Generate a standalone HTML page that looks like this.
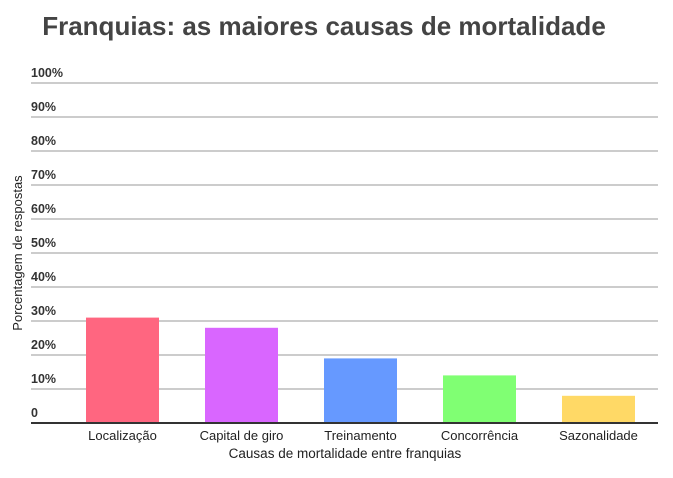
<!DOCTYPE html>
<html><head><meta charset="utf-8"><style>
body{margin:0;background:#fff;}
svg text{font-family:"Liberation Sans",sans-serif;}
</style></head><body>
<svg id="chart" width="673" height="473" xmlns="http://www.w3.org/2000/svg">
<text x="324" y="35" text-anchor="middle" font-size="26" font-weight="bold" fill="#444">Franquias: as maiores causas de mortalidade</text>
<text transform="translate(22,253) rotate(-90)" text-anchor="middle" font-size="13" fill="#222">Porcentagem de respostas</text>
<text x="345" y="458" text-anchor="middle" font-size="13.5" fill="#222">Causas de mortalidade entre franquias</text>
<g id="grid"></g><g id="bars"></g><g id="xlabels"></g>
</svg>
<script>
const categories=["Localização","Capital de giro","Treinamento","Concorrência","Sazonalidade"];
const values=[31,28,19,14,8];
const colors=["#ff6680","#d966ff","#6699ff","#80ff73","#ffd966"];
const ticks=[0,10,20,30,40,50,60,70,80,90,100];
const tickLabels=["0","10%","20%","30%","40%","50%","60%","70%","80%","90%","100%"];
const NS="http://www.w3.org/2000/svg";
const y0=423,pxPer=3.4,left=63,band=119,bw=73,gridL=31,gridR=658;
function y(v){return y0-v*pxPer;}
function x(i){return left+i*band+(band-bw)/2;}
const grid=document.getElementById('grid');
ticks.forEach((t,i)=>{
 const l=document.createElementNS(NS,'line');
 
 
 l.setAttribute('x1',gridL);l.setAttribute('x2',gridR);l.setAttribute('y1',y(t));l.setAttribute('y2',y(t));
 l.setAttribute('stroke',t===0?'#333':'#999');l.setAttribute('stroke-width',t===0?2:1);
 grid.appendChild(l);
 const tx=document.createElementNS(NS,'text');
 
 
 tx.setAttribute('x',gridL);tx.setAttribute('y',y(t)-6);tx.setAttribute('font-size','12.5');tx.setAttribute('font-weight','bold');tx.setAttribute('fill','#333');
 tx.textContent=tickLabels[i];grid.appendChild(tx);
});
const bars=document.getElementById('bars'),xl=document.getElementById('xlabels');
categories.forEach((c,i)=>{
 const r=document.createElementNS(NS,'rect');
 
 
 r.setAttribute('x',x(i));r.setAttribute('width',bw);r.setAttribute('y',y(values[i]));r.setAttribute('height',values[i]*pxPer-1);
 r.setAttribute('fill',colors[i]);bars.appendChild(r);
 const t=document.createElementNS(NS,'text');
 
 
 t.setAttribute('x',x(i)+bw/2);t.setAttribute('y',440);t.setAttribute('text-anchor','middle');t.setAttribute('font-size','13');t.setAttribute('fill','#222');
 t.textContent=c;xl.appendChild(t);
});
</script>
</body></html>
